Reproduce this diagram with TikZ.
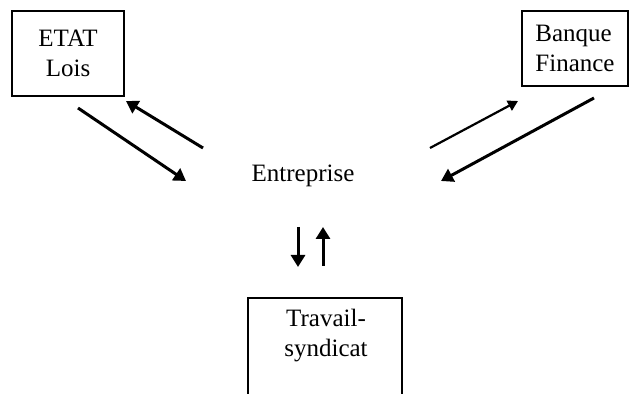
\documentclass[tikz,border=0pt]{standalone}
\usepackage{fontspec}
\setmainfont{Liberation Serif}
\usetikzlibrary{arrows.meta}
\begin{document}
\begin{tikzpicture}[x=0.5pt,y=-0.5pt,
  boxnode/.style={draw,line width=0.8pt,inner sep=0pt,align=center,font=\fontsize{12.5}{15}\selectfont},
  txt/.style={inner sep=0pt,align=center,font=\fontsize{12.5}{15}\selectfont},
  arr/.style={line width=1.5pt,-{Triangle[length=6pt,width=7pt]}},
  thinarr/.style={line width=1.1pt,-{Triangle[length=5pt,width=5.5pt]}}]
\useasboundingbox (0,0) rectangle (630,394);
\clip (0,0) rectangle (630,394);
\node[boxnode,minimum width=56pt,minimum height=42.5pt] (etat) at (68,53.5) {ETAT\\Lois};
\node[boxnode,minimum width=53pt,minimum height=37.5pt,align=left] (banque) at (575,48.5) {Banque\\Finance};
\node[txt,anchor=base] (ent) at (303,182) {Entreprise};
\node[txt] (trav) at (326,336) {Travail-\\syndicat};
\draw[line width=0.8pt] (248,420) -- (248,298) -- (402,298) -- (402,420);
\coordinate (a1s) at (78,108); \coordinate (a1e) at (186,181);
\coordinate (a2s) at (203,148); \coordinate (a2e) at (126,101);
\coordinate (a3s) at (430,148); \coordinate (a3e) at (518,101);
\coordinate (a4s) at (594,98); \coordinate (a4e) at (441,181);
\coordinate (a5s) at (298,227); \coordinate (a5e) at (298,267);
\coordinate (a6s) at (323,266); \coordinate (a6e) at (323,227);
\draw[arr] (a1s) -- (a1e);
\draw[arr] (a2s) -- (a2e);
\draw[thinarr] (a3s) -- (a3e);
\draw[arr] (a4s) -- (a4e);
\draw[arr] (a5s) -- (a5e);
\draw[arr] (a6s) -- (a6e);
\end{tikzpicture}
\end{document}
